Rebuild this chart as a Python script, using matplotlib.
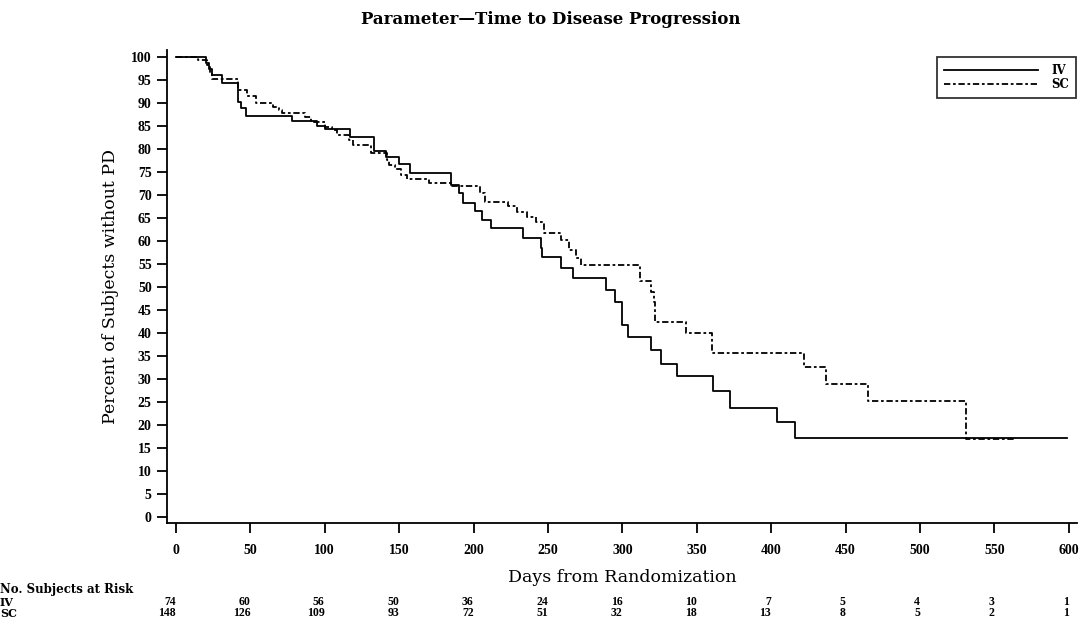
import matplotlib
matplotlib.use("Agg")
import matplotlib.pyplot as plt
from matplotlib.transforms import blended_transform_factory

# Kaplan-Meier step curves (day, percent without PD)
iv_days = [0, 20, 22, 24, 31, 42, 44, 47, 78, 95, 100, 117, 133, 141, 150, 157,
           185, 190, 193, 201, 206, 212, 233, 245, 246, 259, 267, 289, 295, 300,
           304, 319, 326, 337, 361, 372, 404, 416, 599]
iv_pct = [100, 98.6, 97.3, 96.1, 94.3, 90.3, 88.8, 87.2, 86.0, 85.0, 84.3, 82.5,
          79.6, 78.2, 76.7, 74.8, 72.2, 70.4, 68.3, 66.5, 64.6, 62.8, 60.6, 58.4,
          56.6, 54.1, 51.9, 49.3, 46.7, 41.7, 39.1, 36.3, 33.2, 30.7, 27.4, 23.8,
          20.6, 17.1, 17.1]

sc_days = [0, 15, 21, 23, 24, 42, 48, 54, 65, 69, 71, 87, 91, 100, 105, 108, 116,
           119, 131, 142, 143, 147, 151, 155, 170, 185, 204, 208, 223, 229, 236,
           242, 247, 259, 264, 269, 272, 312, 319, 321, 322, 343, 360, 422, 437,
           465, 531, 564]
sc_pct = [100, 99.3, 98.3, 96.5, 95.2, 92.8, 91.4, 89.9, 89.2, 88.5, 87.8, 86.9,
          85.9, 84.8, 84.1, 83.0, 82.0, 80.9, 79.1, 77.6, 76.5, 75.6, 74.3, 73.4,
          72.5, 72.0, 70.4, 68.5, 67.5, 66.4, 65.3, 64.2, 61.7, 60.2, 58.0, 56.2,
          54.8, 51.2, 49.0, 46.8, 42.3, 40.1, 35.7, 32.7, 29.0, 25.3, 16.9, 16.9]

risk_days = [0, 50, 100, 150, 200, 250, 300, 350, 400, 450, 500, 550, 600]
iv_risk = [74, 60, 56, 50, 36, 24, 16, 10, 7, 5, 4, 3, 1]
sc_risk = [148, 126, 109, 93, 72, 51, 32, 18, 13, 8, 5, 2, 1]

plt.rcParams['font.family'] = 'Liberation Serif'
plt.rcParams['xtick.direction'] = 'out'
plt.rcParams['ytick.direction'] = 'out'
WIDE = 'DejaVu Serif'

W, H = 1089, 623
fig = plt.figure(figsize=(W / 100, H / 100), dpi=100)
ax = fig.add_axes([167 / W, 1 - 523 / H, (1077 - 167) / W, (523 - 50) / H])

ax.step(iv_days, iv_pct, where='post', color='black', lw=1.3, label='IV')
ax.step(sc_days, sc_pct, where='post', color='black', lw=1.3,
        linestyle=(0, (3.5, 1.5, 1.5, 1.5)), label='SC')

ax.set_xlim(-6, 605.5)
ax.set_ylim(-1.3, 101.5)
ax.set_xticks(range(0, 601, 50))
ax.set_yticks(range(0, 101, 5))
for s in ['top', 'right']:
    ax.spines[s].set_visible(False)
for s in ['left', 'bottom']:
    ax.spines[s].set_linewidth(1.3)
ax.tick_params(axis='both', width=1.3, length=7, labelsize=10)
ax.tick_params(axis='x', pad=8)
ax.tick_params(axis='y', pad=4)
for lab in ax.get_xticklabels() + ax.get_yticklabels():
    lab.set_fontweight('bold')

ax.set_xlabel("Days from Randomization", fontsize=12.5, family=WIDE, labelpad=9)
ax.set_ylabel("Percent of Subjects without PD", fontsize=12.5, family=WIDE, labelpad=9)
fig.text(0.506, 1 - 20 / H, "Parameter\u2014Time to Disease Progression",
         ha='center', va='center', fontsize=12, fontweight='bold', family=WIDE)

leg = ax.legend(loc='upper right', bbox_to_anchor=(0.999, 0.985), borderaxespad=0,
                fancybox=False, edgecolor='black', handlelength=8,
                handletextpad=1.1, labelspacing=0.05, borderpad=0.6,
                prop={'weight': 'bold', 'size': 8.5, 'family': WIDE})
leg.get_frame().set_linewidth(1.3)

# number at risk table
tr = blended_transform_factory(ax.transData, fig.transFigure)
row_iv, row_sc = 1 - 602 / H, 1 - 613.5 / H
fig.text(0.0, 1 - 589 / H, "No. Subjects at Risk", fontsize=8.5, fontweight='bold',
         family=WIDE, ha='left', va='center')
fig.text(0.0, row_iv, "IV", fontsize=8, fontweight='bold', family=WIDE,
         ha='left', va='center')
fig.text(0.0, row_sc, "SC", fontsize=8, fontweight='bold', family=WIDE,
         ha='left', va='center')
for d, a, b in zip(risk_days, iv_risk, sc_risk):
    ax.text(d, row_iv, str(a), transform=tr, fontsize=8.5, fontweight='bold',
            ha='right', va='center')
    ax.text(d, row_sc, str(b), transform=tr, fontsize=8.5, fontweight='bold',
            ha='right', va='center')

fig.savefig("out.png", dpi=100)
